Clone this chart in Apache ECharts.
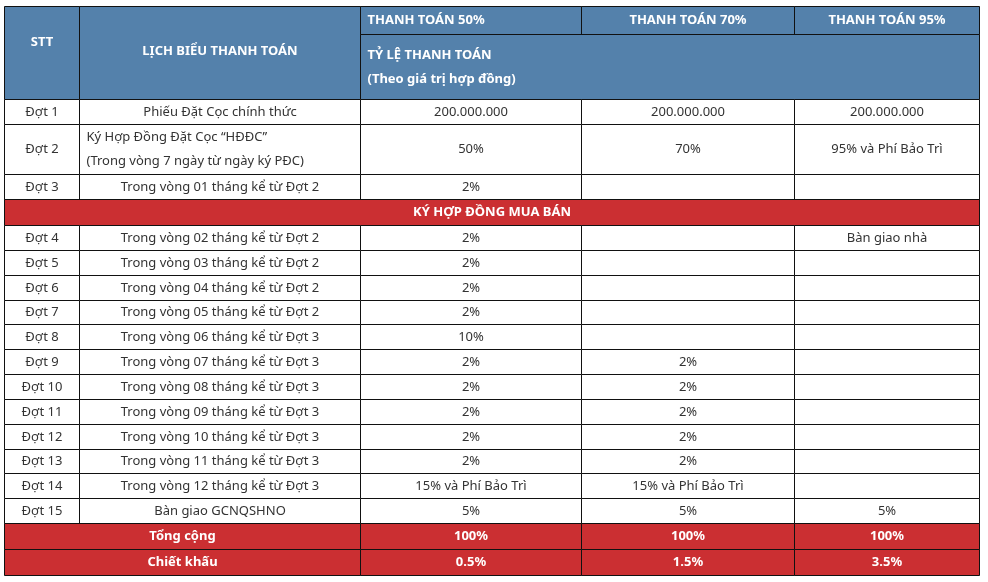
<!DOCTYPE html>
<html>
<head>
<meta charset="utf-8">
<script src="https://cdn.jsdelivr.net/npm/echarts@6/dist/echarts.min.js"></script>
<style>
  html, body { margin: 0; padding: 0; background: #fff; }
  #chart { width: 988px; height: 582px; }
</style>
</head>
<body>
<div id="chart"></div>
<script>
// ---- table content ----
const colHeaders = ['STT', 'LỊCH BIỂU THANH TOÁN', 'THANH TOÁN 50%', 'THANH TOÁN 70%', 'THANH TOÁN 95%']
const rateHeader = 'TỶ LỆ THANH TOÁN\n(Theo giá trị hợp đồng)'
const stages = ['Đợt 1', 'Đợt 2', 'Đợt 3', 'Đợt 4', 'Đợt 5', 'Đợt 6', 'Đợt 7', 'Đợt 8',
  'Đợt 9', 'Đợt 10', 'Đợt 11', 'Đợt 12', 'Đợt 13', 'Đợt 14', 'Đợt 15']
const schedules = [
  'Phiếu Đặt Cọc chính thức',
  'Ký Hợp Đồng Đặt Cọc “HĐĐC”\n(Trong vòng 7 ngày từ ngày ký PĐC)',
  'Trong vòng 01 tháng kể từ Đợt 2',
  'Trong vòng 02 tháng kể từ Đợt 2',
  'Trong vòng 03 tháng kể từ Đợt 2',
  'Trong vòng 04 tháng kể từ Đợt 2',
  'Trong vòng 05 tháng kể từ Đợt 2',
  'Trong vòng 06 tháng kể từ Đợt 3',
  'Trong vòng 07 tháng kể từ Đợt 3',
  'Trong vòng 08 tháng kể từ Đợt 3',
  'Trong vòng 09 tháng kể từ Đợt 3',
  'Trong vòng 10 tháng kể từ Đợt 3',
  'Trong vòng 11 tháng kể từ Đợt 3',
  'Trong vòng 12 tháng kể từ Đợt 3',
  'Bàn giao GCNQSHNO'
]
const pay50 = ['200.000.000', '50%', '2%', '2%', '2%', '2%', '2%', '10%', '2%', '2%', '2%', '2%', '2%', '15% và Phí Bảo Trì', '5%']
const pay70 = ['200.000.000', '70%', '', '', '', '', '', '', '2%', '2%', '2%', '2%', '2%', '15% và Phí Bảo Trì', '5%']
const pay95 = ['200.000.000', '95% và Phí Bảo Trì', '', 'Bàn giao nhà', '', '', '', '', '', '', '', '', '', '', '5%']
const sectionTitle = 'KÝ HỢP ĐỒNG MUA BÁN'
const sectionAfter = 3            // section row comes after Đợt 3
const totalLabel = 'Tổng cộng'
const totals = ['100%', '100%', '100%']
const discountLabel = 'Chiết khấu'
const discounts = ['0.5%', '1.5%', '3.5%']

// ---- layout ----
const colW = [75, 281, 221, 213, 185]
const headH = [28, 65]
const stageH = [25, 50, 25, 24.83, 24.83, 24.83, 24.83, 24.83, 24.83, 24.83, 24.83, 24.83, 24.83, 24.83, 24.83]
const sectionH = 26
const footH = 26

const BLUE = '#5481ab'
const RED = '#cb2f32'
const TEXT = '#333333'
const FONT = '"Noto Sans", sans-serif'

const colX = [0]
colW.forEach(w => colX.push(colX[colX.length - 1] + w))

// row tops, in table order
const rowH = [...headH]
stages.forEach((s, i) => {
  rowH.push(stageH[i])
  if (i + 1 === sectionAfter) rowH.push(sectionH)
})
rowH.push(footH, footH)
const rowY = [0]
rowH.forEach(h => rowY.push(rowY[rowY.length - 1] + h))
const tableW = colX[colX.length - 1]
const tableH = rowY[rowY.length - 1]

const cells = []
function cell(c0, c1, r0, r1, text, opt) {
  cells.push(Object.assign({ value: [colX[c0], colX[c1], rowY[r0], rowY[r1]], text: text, fill: '#fff', color: TEXT, bold: false, align: 'center', dy: 0 }, opt || {}))
}
const head = { fill: BLUE, color: '#fff', bold: true }
const red = { fill: RED, color: '#fff', bold: true }

cell(0, 1, 0, 2, colHeaders[0], Object.assign({ dy: -11 }, head))
cell(1, 2, 0, 2, colHeaders[1], Object.assign({ dy: -2 }, head))
cell(2, 3, 0, 1, colHeaders[2], Object.assign({ align: 'left' }, head))
cell(3, 4, 0, 1, colHeaders[3], head)
cell(4, 5, 0, 1, colHeaders[4], head)
cell(2, 5, 1, 2, rateHeader, Object.assign({ align: 'left' }, head))

let r = 2
stages.forEach((s, i) => {
  cell(0, 1, r, r + 1, s)
  cell(1, 2, r, r + 1, schedules[i], i === 1 ? { align: 'left' } : {})
  cell(2, 3, r, r + 1, pay50[i])
  cell(3, 4, r, r + 1, pay70[i])
  cell(4, 5, r, r + 1, pay95[i])
  r++
  if (i + 1 === sectionAfter) {
    cell(0, 5, r, r + 1, sectionTitle, red)
    r++
  }
})
cell(0, 2, r, r + 1, totalLabel, red)
totals.forEach((t, k) => cell(2 + k, 3 + k, r, r + 1, t, red))
r++
cell(0, 2, r, r + 1, discountLabel, red)
discounts.forEach((t, k) => cell(2 + k, 3 + k, r, r + 1, t, red))

const chart = echarts.init(document.getElementById('chart'))
chart.setOption({
  animation: false,
  grid: { left: 5, top: 6, right: 8, bottom: 7 },
  xAxis: { type: 'value', min: 0, max: tableW, show: false },
  yAxis: { type: 'value', min: 0, max: tableH, inverse: true, show: false },
  series: [{
    type: 'custom',
    data: cells,
    renderItem(params, api) {
      const c = cells[params.dataIndex]
      const p0 = api.coord([api.value(0), api.value(2)])
      const p1 = api.coord([api.value(1), api.value(3)])
      const x0 = Math.round(p0[0]) - 0.5, x1 = Math.round(p1[0]) - 0.5
      const y0 = Math.round(p0[1]) + 0.5, y1 = Math.round(p1[1]) + 0.5
      const tx = c.align === 'left' ? x0 + 7 : (x0 + x1) / 2
      return {
        type: 'group',
        children: [
          { type: 'rect', shape: { x: x0, y: y0, width: x1 - x0, height: y1 - y0 }, style: { fill: c.fill, stroke: '#111', lineWidth: 1 } },
          {
            type: 'text',
            style: {
              text: c.text, x: tx, y: (y0 + y1) / 2 + c.dy,
              align: c.align, verticalAlign: 'middle', lineHeight: 24,
              fill: c.color, font: (c.bold ? 'bold ' : '') + '13px ' + FONT
            }
          }
        ]
      }
    }
  }]
})
</script>
</body>
</html>
